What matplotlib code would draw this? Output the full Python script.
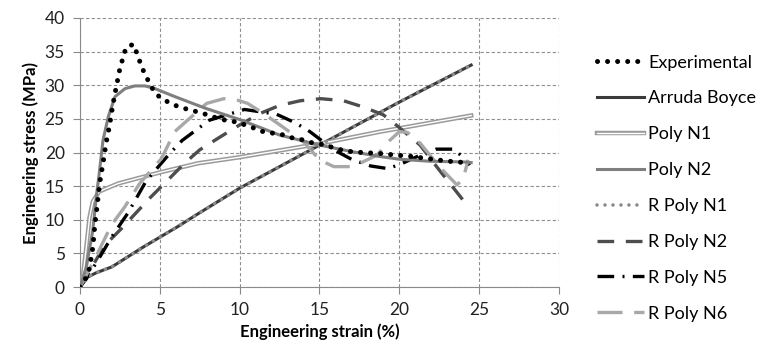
import matplotlib
matplotlib.use('Agg')
import matplotlib.pyplot as plt
import matplotlib.patheffects as pe

plt.rcParams['font.family'] = ['Lato', 'DejaVu Sans']

# ---- data (strain %, stress MPa) ----
exp_x = [0, 0.3, 0.6, 0.81, 0.92, 1.08, 1.23, 1.44, 1.65, 1.85, 2.05, 2.25, 2.5, 2.88, 3.34,
         3.59, 3.82, 4.07, 4.38, 4.7, 5.2, 5.85, 6.47, 7.1, 7.72, 8.35, 8.87, 9.5, 10.64,
         11.27, 12.0, 12.6, 13.26, 13.9, 14.6, 15.2, 15.9, 16.5, 17.1, 17.7, 18.5, 19.1,
         19.8, 20.5, 21.1, 21.8, 22.4, 23.1, 23.7, 24.3]
exp_y = [0, 1.0, 2.8, 6.0, 9.0, 12.2, 15.4, 18.4, 21.6, 24.0, 27.0, 29.5, 32.5, 35.6, 36.1,
         34.6, 33.0, 31.6, 30.2, 28.8, 27.9, 27.1, 26.6, 26.2, 25.8, 25.3, 24.9, 24.7, 23.9,
         23.2, 22.9, 22.7, 22.2, 21.9, 21.4, 21.2, 20.7, 20.3, 20.1, 20.0, 19.9, 19.8,
         19.6, 19.5, 19.3, 19.1, 18.9, 18.7, 18.6, 18.4]

ab_x = [0, 0.5, 1, 2, 4, 6.1, 7.4, 10, 15, 18.2, 20, 24.5]
ab_y = [0, 1.5, 2.1, 3.0, 6.0, 8.95, 10.9, 14.7, 21.1, 25.2, 27.5, 33.0]

p1_x = [0, 0.2, 0.4, 0.6, 0.8, 1.2, 2.4, 5.1, 7.4, 10, 15, 18.8, 20, 24.5]
p1_y = [0, 2.0, 6.0, 10.4, 12.7, 14.2, 15.4, 17.1, 18.4, 19.3, 21.3, 23.1, 23.6, 25.5]

p2_x = [0, 0.4, 0.8, 1.02, 1.23, 1.44, 1.77, 2.19, 2.82, 3.44, 4.07, 4.7, 5.95, 7.83,
        10, 12.5, 15, 17.1, 18.8, 20, 21.9, 24, 24.5]
p2_y = [0, 3.0, 8.4, 13.4, 17.4, 21.8, 25.3, 28.3, 29.5, 29.9, 29.9, 29.5, 28.3, 26.6,
        24.9, 22.6, 21.1, 20.1, 19.4, 19.0, 18.7, 18.6, 18.5]

rp1_x = ab_x
rp1_y = [0, 1.5, 2.1, 3.0, 6.0, 8.95, 10.9, 14.7, 21.1, 25.2, 27.5, 33.0]

rp2_x = [0, 1.55, 2.6, 4.36, 5.5, 6.55, 7.5, 8.77, 10, 11.27, 12.5, 13.8, 15.1, 16.5,
         17.7, 19, 19.8, 21.3, 22.5, 24, 24.3]
rp2_y = [0, 6.2, 8.7, 13.2, 15.9, 18.4, 20.4, 22.3, 24.1, 25.8, 27.0, 27.7, 28.0, 27.7,
         26.8, 25.6, 24.1, 21.1, 17.4, 12.9, 12.0]

rp5_x = [0, 1, 2, 3, 4.15, 5.6, 6.4, 8.1, 10.3, 12.3, 13.5, 14.4, 15.9, 17, 18.2, 19.3,
         20.2, 21.3, 22.3, 23.4, 24.1, 24.4]
rp5_y = [0, 3.5, 7.5, 11.0, 15.8, 19.8, 21.8, 24.8, 26.4, 25.7, 24.4, 23.1, 20.4, 19.0,
         18.0, 17.6, 18.4, 19.6, 20.5, 20.5, 19.1, 18.1]

rp6_x = [0, 1, 1.96, 2.8, 3.74, 5.1, 5.93, 6.26, 7.93, 9.0, 9.6, 10.5, 11.5, 12.7, 14.0,
         15.0, 15.9, 17.1, 18.6, 19.4, 20.0, 20.5, 21.3, 22.5, 23.6, 24.0, 24.3]
rp6_y = [0, 4.5, 9.2, 11.9, 15.4, 19.1, 23.1, 23.8, 27.3, 28.0, 28.0, 27.3, 25.8, 23.8,
         21.6, 18.9, 17.9, 17.9, 19.6, 21.8, 23.1, 23.0, 21.4, 17.9, 15.2, 16.0, 18.9]

x_ticks = [0, 5, 10, 15, 20, 25, 30]
y_ticks = [0, 5, 10, 15, 20, 25, 30, 35, 40]

fig = plt.figure(figsize=(7.67, 3.57), dpi=100)
ax = fig.add_axes([0.1043, 0.196, 0.6245, 0.7536])

ax.plot(exp_x, exp_y, color='black', lw=3.6, linestyle=(0, (0.01, 2.0)),
        dash_capstyle='round', label='Experimental', zorder=5)
ax.plot(ab_x, ab_y, color='#3a3a3a', lw=2.2, label='Arruda Boyce', zorder=3)
ax.plot(p1_x, p1_y, color='white', lw=1.0, label='Poly N1', zorder=3,
        path_effects=[pe.Stroke(linewidth=3.2, foreground='#9a9a9a'), pe.Normal()])
ax.plot(p2_x, p2_y, color='#7f7f7f', lw=2.2, label='Poly N2', zorder=4)
ax.plot(rp1_x, rp1_y, color='#8c8c8c', lw=2.6, linestyle=(0, (0.01, 2.2)),
        dash_capstyle='round', label='R Poly N1', zorder=4)
ax.plot(rp2_x, rp2_y, color='#4d4d4d', lw=2.4, linestyle=(0, (5, 3.5)),
        label='R Poly N2', zorder=3)
ax.plot(rp5_x, rp5_y, color='black', lw=2.4, linestyle=(0, (5, 2.5, 0.6, 2.5)),
        label='R Poly N5', zorder=3)
ax.plot(rp6_x, rp6_y, color='#a8a8a8', lw=2.4, linestyle=(0, (7.5, 3.5)),
        label='R Poly N6', zorder=3)

ax.set_xlim(0, 30)
ax.set_ylim(0, 40)
ax.set_xticks(x_ticks)
ax.set_yticks(y_ticks)
ax.grid(True, color='#8f8f8f', linestyle=(0, (3, 2)), lw=0.8)
ax.set_axisbelow(True)
for s in ['top', 'right']:
    ax.spines[s].set_visible(False)
for s in ['left', 'bottom']:
    ax.spines[s].set_color('#8a8a8a')
ax.tick_params(direction='out', length=5, color='#8a8a8a', labelsize=12.5,
               labelcolor='#222222', pad=6)
ax.set_xlabel('Engineering strain (%)', fontsize=12, fontweight='bold', labelpad=4)
ax.set_ylabel('Engineering stress (MPa)', fontsize=12, fontweight='bold', labelpad=4)

fig.legend(loc='upper left', bbox_to_anchor=(0.778, 0.847), frameon=False,
           fontsize=13, handlelength=2.6, handletextpad=0.25, labelspacing=1.1,
           borderpad=0, borderaxespad=0)

fig.savefig('out.png', dpi=100, facecolor='white')
